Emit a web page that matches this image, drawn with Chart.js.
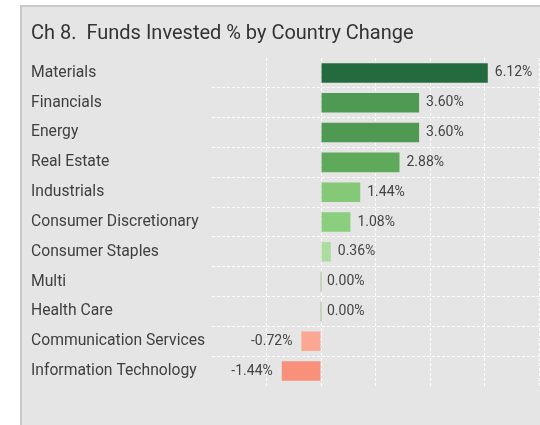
<!DOCTYPE html>
<html>
<head>
<meta charset="utf-8">
<script src="https://cdn.jsdelivr.net/npm/chart.js@4"></script>
<style>
  html, body { margin: 0; padding: 0; background: #fff; overflow: hidden; }
  #panel {
    position: absolute; left: 20px; top: 5px;
    width: 560px; height: 440px;
    background: #e5e5e5; border: 2px solid #c9c9c9;
  }
  #chart { display: block; }
</style>
</head>
<body>
<div id="panel"><canvas id="chart" width="530" height="416"></canvas></div>
<script>
// sector change in funds invested (%)
const sectors = [
  'Materials', 'Financials', 'Energy', 'Real Estate', 'Industrials',
  'Consumer Discretionary', 'Consumer Staples', 'Multi', 'Health Care',
  'Communication Services', 'Information Technology'
];
const changes = [6.12, 3.60, 3.60, 2.88, 1.44, 1.08, 0.36, 0.00, 0.00, -0.72, -1.44];
const barColors = [
  '#236b3e', '#4f9a52', '#4f9a52', '#5fa95a', '#85c877', '#8bce7e',
  '#acdc9f', '#c6d4be', '#c6d4be', '#fca793', '#f9917a'
];
const xTicks = [-4, -2, 0, 2, 4, 6, 8];

const fontFamily = 'Roboto, "Noto Sans", sans-serif';

// draw the % value next to each bar
const valueLabels = {
  id: 'valueLabels',
  afterDatasetsDraw(chart) {
    const ctx = chart.ctx;
    const meta = chart.getDatasetMeta(0);
    ctx.save();
    ctx.font = '14px ' + fontFamily;
    ctx.fillStyle = '#444';
    ctx.textBaseline = 'middle';
    meta.data.forEach((bar, i) => {
      const v = changes[i];
      const txt = v.toFixed(2) + '%';
      if (v < 0) {
        ctx.textAlign = 'right';
        ctx.fillText(txt, bar.x - 9, bar.y);
      } else {
        ctx.textAlign = 'left';
        ctx.fillText(txt, bar.x + 7, bar.y);
      }
    });
    ctx.restore();
  }
};

new Chart(document.getElementById('chart'), {
  type: 'bar',
  data: {
    labels: sectors,
    datasets: [{
      data: changes,
      backgroundColor: barColors,
      borderWidth: 0,
      minBarLength: 2,
      barPercentage: 0.82,
      categoryPercentage: 0.8
    }]
  },
  options: {
    indexAxis: 'y',
    responsive: false,
    animation: false,
    layout: { padding: { left: 9, right: 13, top: 0, bottom: 37 } },
    scales: {
      x: {
        min: -4,
        max: 8,
        afterBuildTicks: (scale) => { scale.ticks = xTicks.map(v => ({ value: v })); },
        ticks: { display: false },
        border: { display: false, dash: [3, 2] },
        grid: {
          color: (c) => (c.index === 0 ? 'rgba(0,0,0,0)' : '#ffffff'),
          lineWidth: 1,
          drawTicks: false
        },
        afterFit: (scale) => { scale.height = 0; }
      },
      y: {
        border: { display: false, dash: [3, 2] },
        grid: {
          color: (c) => (c.type !== 'tick' || c.index === 0 ? 'rgba(0,0,0,0)' : '#ffffff'),
          lineWidth: 1,
          drawTicks: false
        },
        ticks: {
          crossAlign: 'far',
          padding: 0,
          color: '#3f3f3f',
          font: { family: fontFamily, size: 15.7 }
        },
        afterFit: (scale) => { scale.width = 181; }
      }
    },
    plugins: {
      legend: { display: false },
      tooltip: { enabled: false },
      title: {
        display: true,
        text: 'Ch 8.  Funds Invested % by Country Change',
        align: 'start',
        color: '#333',
        font: { family: fontFamily, size: 20, weight: 'normal' },
        padding: { top: 15, bottom: 12 }
      }
    }
  },
  plugins: [valueLabels]
});
</script>
</body>
</html>
